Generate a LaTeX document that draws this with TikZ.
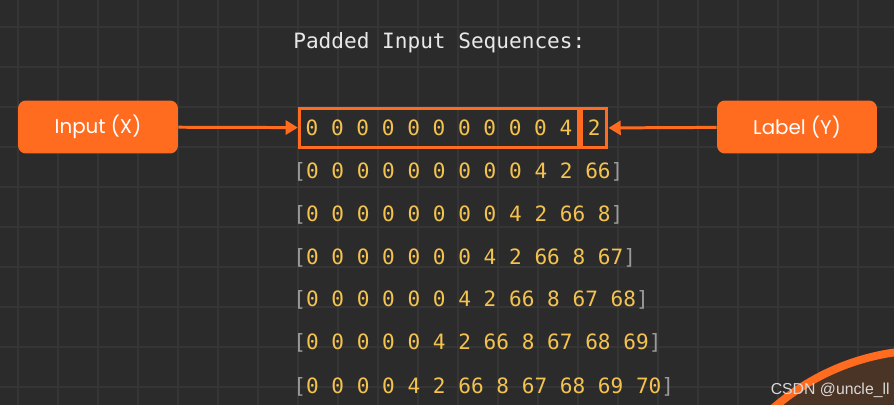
\documentclass[tikz,border=0pt]{standalone}
\usepackage{fontspec}
\setmonofont{DejaVu Sans Mono}
\newfontfamily\popfont{Poppins}
\newfontfamily\wmfont{Liberation Sans}
\usetikzlibrary{positioning, arrows.meta}
\definecolor{bgdark}{HTML}{2B2B2B}
\definecolor{gridgray}{HTML}{353535}
\definecolor{accent}{HTML}{FF6C1F}
\definecolor{digit}{HTML}{F4C24F}
\definecolor{brk}{HTML}{9A9A9A}
\definecolor{titlegray}{HTML}{E8E8E8}
\definecolor{camfill}{HTML}{4A3426}
\definecolor{wmgray}{HTML}{D8D8D8}
\newcommand{\seqrow}[1]{\textcolor{brk}{[}#1\textcolor{brk}{]}}

\begin{document}
\begin{tikzpicture}[x=0.02cm, y=-0.02cm,
  tag/.style={fill=accent, rounded corners=4.5pt, minimum width=3.2cm,
    minimum height=1.06cm, text=white, font=\popfont\fontsize{11.3}{13}\selectfont},
  seq/.style={font=\ttfamily\fontsize{12}{14}\selectfont, text=digit,
    inner sep=0pt, anchor=west},
  seqbox/.style={draw=accent, line width=1.7pt, text=digit,
    font=\ttfamily\fontsize{12}{14}\selectfont, inner xsep=3.6pt,
    minimum height=0.78cm},
  arrow/.style={-{Triangle[length=7pt, width=8pt]}, draw=accent, line width=1.7pt},
  gridline/.style={gridgray, line width=1.1pt}
]

% background and grid
\useasboundingbox (0,0) rectangle (894,405);
\fill[bgdark] (0,0) rectangle (894,405);
\foreach \gx in {18,58,...,898}
  \draw[gridline] (\gx,0) -- (\gx,405);
\foreach \gy in {27,67,...,387}
  \draw[gridline] (0,\gy) -- (894,\gy);

% camera overlay in the corner
\begin{scope}
  \clip (0,0) rectangle (894,405);
  \draw[accent, line width=4.5pt, fill=camfill] (928,585) circle [radius=4.7cm];
\end{scope}

% title
\node[seq, text=titlegray] (title) at (293,43) {Padded Input Sequences:};

% first sequence split into X and Y
\node[seqbox] (xseq) at (439,128) {0 0 0 0 0 0 0 0 0 0 4};
\node[seqbox, right=0pt of xseq] (yseq) {2};

\node[tag] (inputx) at (98,127) {Input (X)};
\node[tag] (labely) at (797,127) {Label (Y)};

\draw[arrow] (inputx) -- (xseq);
\draw[arrow] (labely) -- (yseq);

% remaining sequences
\node[seq] (row2) at (293,172) {\seqrow{0 0 0 0 0 0 0 0 0 4 2 66}};
\node[seq] (row3) at (293,215) {\seqrow{0 0 0 0 0 0 0 0 4 2 66 8}};
\node[seq] (row4) at (293,258) {\seqrow{0 0 0 0 0 0 0 4 2 66 8 67}};
\node[seq] (row5) at (293,300) {\seqrow{0 0 0 0 0 0 4 2 66 8 67 68}};
\node[seq] (row6) at (293,343) {\seqrow{0 0 0 0 0 4 2 66 8 67 68 69}};
\node[seq] (row7) at (293,387) {\seqrow{0 0 0 0 4 2 66 8 67 68 69 70}};

% watermark
\node[font=\wmfont\fontsize{9}{10}\selectfont, text=wmgray, anchor=east,
  inner sep=0pt] (wm) at (890,390) {CSDN @uncle\_ll};

\end{tikzpicture}
\end{document}
